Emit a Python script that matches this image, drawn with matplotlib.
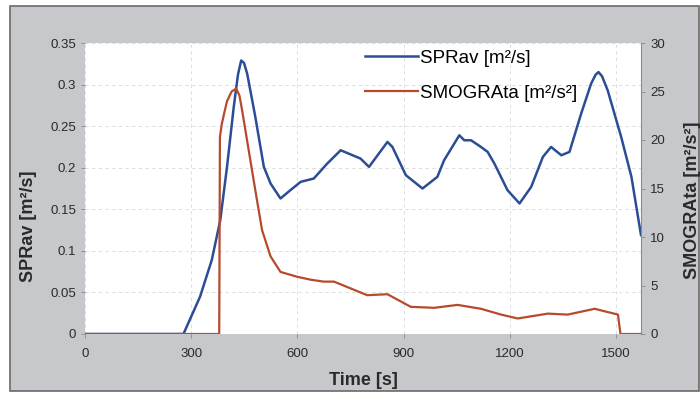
import matplotlib
matplotlib.use("Agg")
import matplotlib.pyplot as plt
from matplotlib.patches import Rectangle

plt.rcParams['font.family'] = ['Liberation Sans', 'DejaVu Sans']

# --- data ---
time_sprav = [0, 278, 325, 358, 382, 401, 420, 432, 441, 449, 458, 481, 505, 524, 552,
              580, 609, 646, 684, 722, 778, 802, 854, 868, 906, 953, 995, 1014, 1057,
              1071, 1090, 1118, 1137, 1156, 1193, 1227, 1260, 1293, 1316, 1345, 1368,
              1401, 1429, 1442, 1450, 1460, 1476, 1514, 1543, 1570]
sprav = [0, 0, 0.045, 0.089, 0.137, 0.201, 0.273, 0.312, 0.329, 0.326, 0.313, 0.261,
         0.201, 0.181, 0.163, 0.173, 0.183, 0.187, 0.205, 0.221, 0.211, 0.201, 0.231,
         0.225, 0.191, 0.175, 0.189, 0.209, 0.239, 0.233, 0.233, 0.225, 0.219, 0.205,
         0.173, 0.157, 0.177, 0.213, 0.225, 0.215, 0.219, 0.265, 0.301, 0.312, 0.315,
         0.310, 0.293, 0.237, 0.189, 0.119]

time_smog = [0, 379, 381, 386, 392, 401, 414, 427, 436, 443, 462, 481, 500, 524, 552,
             599, 637, 674, 703, 750, 797, 854, 920, 986, 1052, 1118, 1175, 1222, 1307,
             1363, 1439, 1505, 1512, 1570]
smog = [0, 0, 20.3, 21.6, 22.6, 24.0, 25.0, 25.3, 24.6, 23.2, 19.0, 14.8, 10.7, 8.0,
        6.4, 5.9, 5.6, 5.4, 5.4, 4.7, 4.0, 4.1, 2.8, 2.7, 3.0, 2.6, 2.0, 1.6, 2.1, 2.0,
        2.6, 2.0, 0, 0]

x_ticks = [0, 300, 600, 900, 1200, 1500]
y_left_ticks = [0, 0.05, 0.1, 0.15, 0.2, 0.25, 0.3, 0.35]
y_left_labels = ['0', '0.05', '0.1', '0.15', '0.2', '0.25', '0.3', '0.35']
y_right_ticks = [0, 5, 10, 15, 20, 25, 30]

blue = '#2c4d96'
red = '#b64a2c'
panel = '#c6c8cc'
txt = '#2a2a2a'

fig = plt.figure(figsize=(7.0, 3.98), dpi=100, facecolor='white')
fig.patches.append(Rectangle((10/700, 7/398), 689/700, 385/398, transform=fig.transFigure,
                             facecolor=panel, edgecolor='#6a6a6a', linewidth=1.2, zorder=-10))

ax = fig.add_axes([85/700, (398-334)/398, (641-85)/700, (334-43)/398])
ax.set_facecolor('white')
ax2 = ax.twinx()

l1, = ax.plot(time_sprav, sprav, color=blue, linewidth=1.8, label='SPRav [m²/s]')
l2, = ax2.plot(time_smog, smog, color=red, linewidth=1.6, label='SMOGRAta [m²/s²]')

ax.set_xlim(0, 1570)
ax.set_ylim(0, 0.35)
ax2.set_ylim(0, 30)
ax.set_xticks(x_ticks)
ax.set_yticks(y_left_ticks)
ax.set_yticklabels(y_left_labels)
ax2.set_yticks(y_right_ticks)

ax.grid(True, color='#d8d8d8', linestyle=(0, (4, 4)), linewidth=0.6)
ax.set_axisbelow(True)

for a in (ax, ax2):
    for s in a.spines.values():
        s.set_visible(False)
    a.tick_params(axis='both', labelsize=9.5, colors='#888888', labelcolor=txt,
                  length=3, width=0.6)
ax2.spines['right'].set_visible(True)
ax2.spines['right'].set_color('#8a8a8a')
ax2.spines['right'].set_linewidth(0.8)

ax.tick_params(axis='x', pad=7)
ax.set_xlabel('Time [s]', fontsize=13, fontweight='bold', color=txt, labelpad=9)
ax.set_ylabel('SPRav [m²/s]', fontsize=13, fontweight='bold', color=txt)
ax.yaxis.set_label_coords(-0.086, 0.37)
ax2.set_ylabel('SMOGRAta [m²/s²]', fontsize=13, fontweight='bold', color=txt,
               rotation=90)
ax2.yaxis.set_label_coords(1.078, 0.46)

fig.legend(handles=[l1, l2], loc='center left', bbox_to_anchor=(365/700, (398-75.5)/398),
           frameon=False, fontsize=13.5, handlelength=2.8, handletextpad=0.15,
           labelspacing=0.95, borderpad=0, borderaxespad=0)

fig.savefig('out.png', dpi=100, facecolor='white')
